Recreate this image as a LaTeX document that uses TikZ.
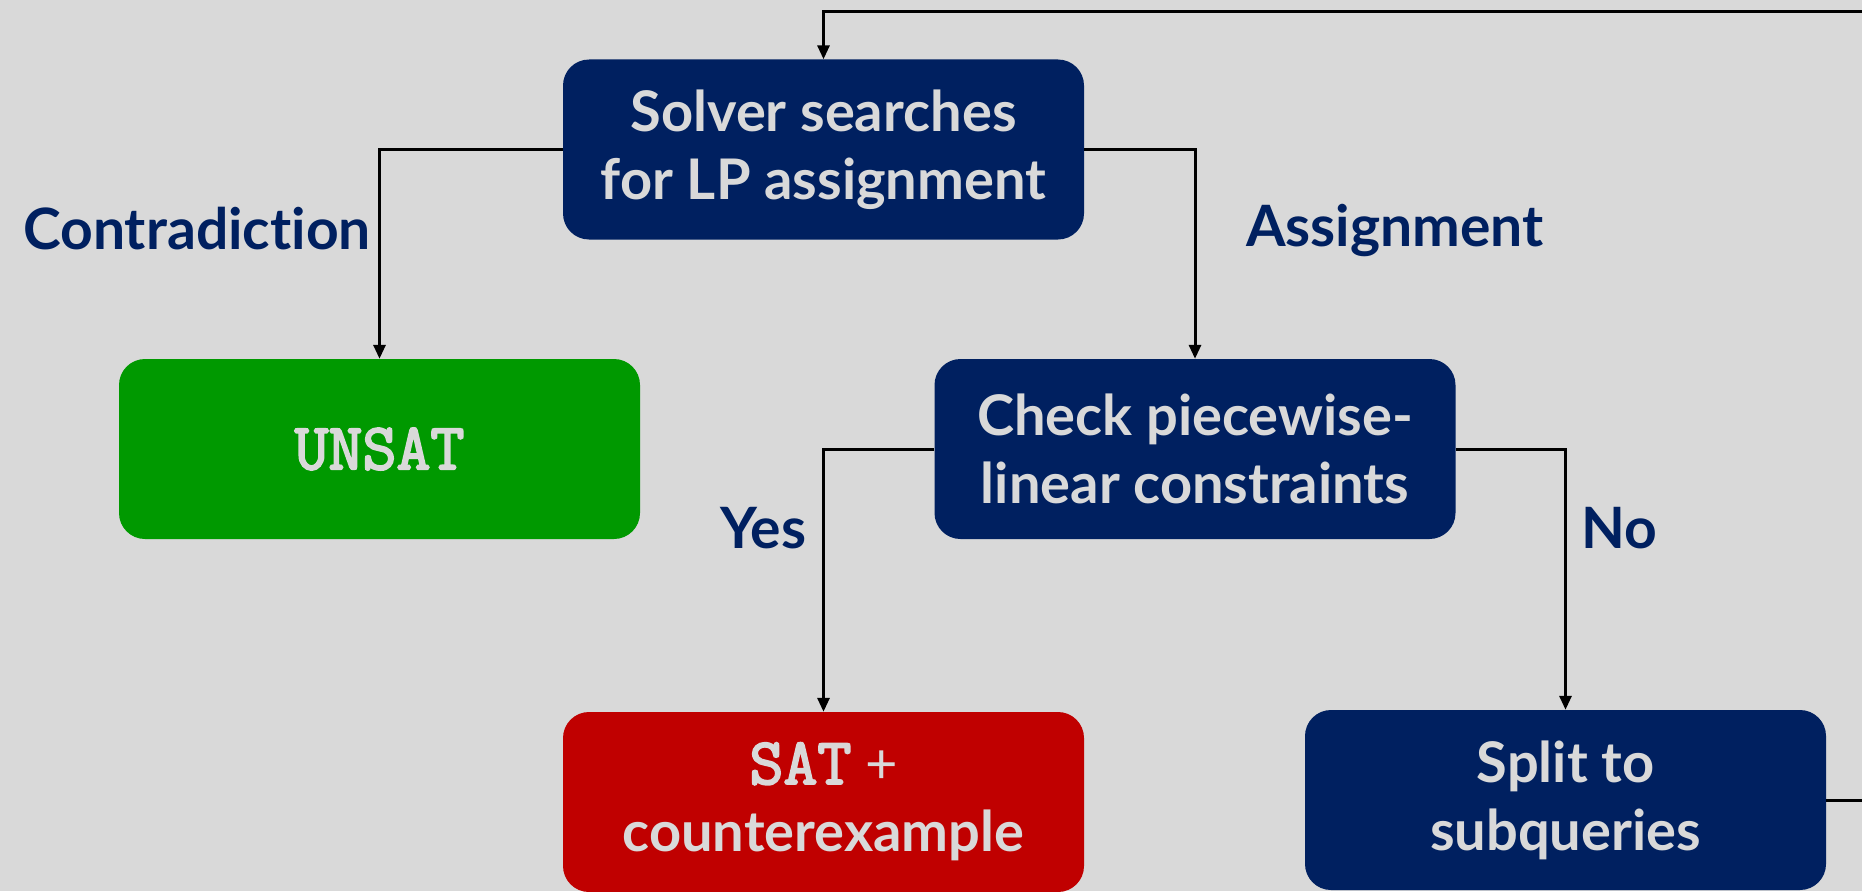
\documentclass[tikz,border=0pt]{standalone}
\usepackage{fontspec}
\setmainfont{Lato}[Ligatures={NoCommon,NoDiscretionary}]
\newfontfamily\verdictfont{Latin Modern Mono}[FakeBold=3]
\usetikzlibrary{arrows.meta}
\definecolor{bgc}{HTML}{D9D9D9}
\definecolor{navy}{HTML}{002060}
\definecolor{okgreen}{HTML}{009900}
\definecolor{badred}{HTML}{C00000}
\definecolor{boxtext}{HTML}{D9D9D9}
\newcommand{\verdict}[1]{{\verdictfont\fontsize{66}{68}\selectfont #1}}
\tikzset{
  flowbox/.style={rectangle, rounded corners=26pt, minimum width=521pt,
    minimum height=180pt, inner sep=0pt, fill=navy, text=boxtext, align=center,
    font=\bfseries\fontsize{56}{68}\selectfont},
  conn/.style={line width=3pt, -{Triangle[length=14pt,width=12pt]}},
  branchlabel/.style={text=navy, inner sep=0pt, font=\bfseries\fontsize{57}{68}\selectfont},
}
\begin{document}
\begin{tikzpicture}[x=1pt,y=-1pt]
\fill[bgc] (0,0) rectangle (1862,891);
\useasboundingbox (0,0) rectangle (1862,891);

\node[flowbox] (solver) at (823.5,149.5) {Solver searches\\for LP assignment};
\node[flowbox, fill=okgreen] (unsat) at (379.5,449) {\verdict{UNSAT}};
\node[flowbox] (check) at (1195,449) {Check piecewise-\\linear constraints};
\node[flowbox, fill=badred] (sat) at (823.5,802) {\verdict{SAT} {\mdseries +}\\counterexample};
\node[flowbox] (split) at (1565.5,800) {Split to\\subqueries};

\node[branchlabel, anchor=east] (lcontra) at (371,229) {Contradiction};
\node[branchlabel, anchor=west] (lassign) at (1246,231) {Assignment};
\node[branchlabel] (lyes) at (763,528) {Yes};
\node[branchlabel] (lno) at (1619,528) {No};

\coordinate (loopturn) at (1890,11.5);

\draw[conn] (solver.west) -| (unsat.north);
\draw[conn] (solver.east) -| (check.north);
\draw[conn] (check.west) -| (sat.north);
\draw[conn] (check.east) -| (split.north);
\draw[conn] (split.east) -| (loopturn) -| (solver.north);
\end{tikzpicture}
\end{document}
